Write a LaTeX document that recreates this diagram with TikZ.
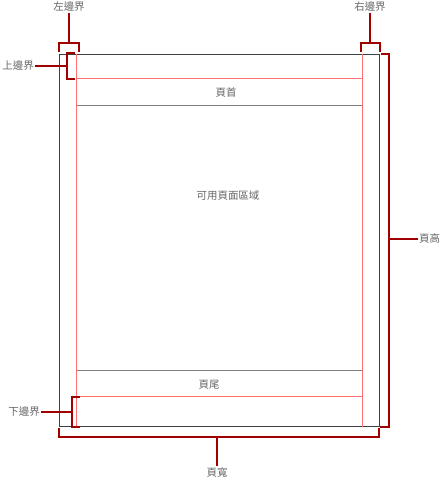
\documentclass[tikz,border=0pt]{standalone}
\usepackage{fontspec}
\newfontfamily\cjk{Noto Sans CJK TC}
\usetikzlibrary{positioning}
\definecolor{bracketred}{HTML}{A00000}
\definecolor{marginred}{HTML}{FF7070}
\definecolor{rulegrey}{HTML}{808080}
\definecolor{pagegrey}{HTML}{404040}
\definecolor{labelgrey}{HTML}{666666}

\begin{document}
\begin{tikzpicture}[x=1bp, y=-1bp,
    lbl/.style={font=\cjk\fontsize{10.5}{12}\selectfont, text=labelgrey, inner sep=1bp},
    bracket/.style={draw=bracketred, line width=2bp},
    margin/.style={draw=marginred, line width=1bp},
    rule/.style={draw=rulegrey, line width=1bp}]
    \useasboundingbox (0,0) rectangle (442,479);
        % Page and margins
        \draw[pagegrey, line width=1bp] (59.5,54.5) rectangle (379.5,426.5);
        \draw[rule] (76.5,105.5) -- (362.5,105.5);
        \draw[rule] (76.5,370.5) -- (362.5,370.5);
        \draw[margin] (76.5,54.5) -- (76.5,426.5);
        \draw[margin] (362.5,54.5) -- (362.5,426.5);
        \draw[margin] (76.5,78.5) -- (362.5,78.5);
        \draw[margin] (76.5,396.5) -- (362.5,396.5);
        
        % Page areas
        \node (header) [lbl] at (226,93) {頁首};
        \node (body) [lbl] at (228,196) {可用頁面區域};
        \node (footer) [lbl] at (209,385) {頁尾};
        
        % Brackets
        \draw[bracket] (59,52) -- (59,43) -- (79,43) -- (79,52);
        \coordinate (lm) at (69,43);
        \draw[bracket] (361,52) -- (361,43) -- (380,43) -- (380,52);
        \coordinate (rm) at (370,43);
        \draw[bracket] (75,53) -- (67,53) -- (67,79) -- (75,79);
        \coordinate (tm) at (67,66);
        \draw[bracket] (80,397) -- (72,397) -- (72,427) -- (80,427);
        \coordinate (bm) at (72,412);
        \draw[bracket] (381,54) -- (389,54) -- (389,427) -- (380,427);
        \coordinate (ph) at (389,239);
        \draw[bracket] (59,428) -- (59,437) -- (379,437) -- (379,428);
        \coordinate (pw) at (217,437);
        
        % Labels
        \node (lmlabel) [lbl] at (69,7) {左邊界};
        \node (rmlabel) [lbl] at (370,7) {右邊界};
        \node (tmlabel) [lbl, anchor=east] at (35,66) {上邊界};
        \node (bmlabel) [lbl, anchor=east] at (41,412) {下邊界};
        \node (phlabel) [lbl, anchor=west] at (418,239) {頁高};
        \node (pwlabel) [lbl] at (217,472) {頁寬};
        
        % Draw stems
        \draw[bracket] (lmlabel.south) -- (lm);
        \draw[bracket] (rmlabel.south) -- (rm);
        \draw[bracket] (tmlabel.east) -- (tm);
        \draw[bracket] (bmlabel.east) -- (bm);
        \draw[bracket] (phlabel.west) -- (ph);
        \draw[bracket] (pwlabel.north) -- (pw);
        
    \end{tikzpicture}
\end{document}
